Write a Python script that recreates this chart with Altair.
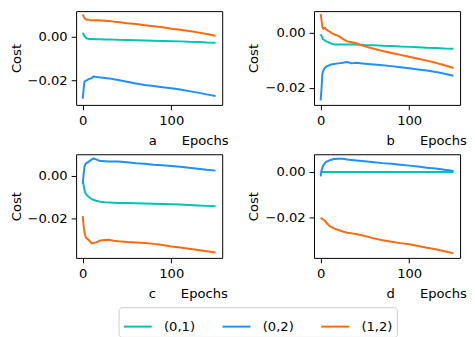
import altair as alt
import pandas as pd

epochs = [0, 1, 2, 3, 4, 5, 6, 8, 10, 12, 15, 20, 25, 30, 35, 40, 50, 60, 70, 80, 90, 100, 110, 120, 130, 140, 150]
series_names = ["(0,1)", "(0,2)", "(1,2)"]
colors = ["#00c4b4", "#1e90ff", "#ff6a0e"]
panel_labels = ["a", "b", "c", "d"]

# panel a
a_01 = [0.0017, 0.0009, 0.0002, -0.0004, -0.0008, -0.0009, -0.0010, -0.0011, -0.0011, -0.0011, -0.0012, -0.0012, -0.0013, -0.0013, -0.0014, -0.0015, -0.0016, -0.0017, -0.0018, -0.0019, -0.0020, -0.0021, -0.0022, -0.0024, -0.0025, -0.0027, -0.0028]
a_02 = [-0.0283, -0.0240, -0.0205, -0.0203, -0.0200, -0.0199, -0.0196, -0.0192, -0.0190, -0.0182, -0.0184, -0.0187, -0.0189, -0.0191, -0.0195, -0.0198, -0.0206, -0.0214, -0.0221, -0.0226, -0.0231, -0.0236, -0.0242, -0.0249, -0.0256, -0.0264, -0.0271]
a_12 = [0.0101, 0.0092, 0.0085, 0.0080, 0.0077, 0.0078, 0.0076, 0.0075, 0.0073, 0.0074, 0.0074, 0.0073, 0.0072, 0.0071, 0.0068, 0.0066, 0.0061, 0.0057, 0.0052, 0.0047, 0.0042, 0.0036, 0.0031, 0.0025, 0.0019, 0.0012, 0.0004]
# panel b
b_01 = [-0.0005, -0.0011, -0.0018, -0.0024, -0.0026, -0.0028, -0.0030, -0.0033, -0.0036, -0.0039, -0.0042, -0.0042, -0.0042, -0.0042, -0.0042, -0.0042, -0.0044, -0.0045, -0.0047, -0.0048, -0.0050, -0.0051, -0.0052, -0.0054, -0.0055, -0.0057, -0.0058]
b_02 = [-0.0246, -0.0202, -0.0148, -0.0138, -0.0131, -0.0127, -0.0124, -0.0120, -0.0117, -0.0115, -0.0113, -0.0111, -0.0109, -0.0106, -0.0111, -0.0109, -0.0112, -0.0115, -0.0118, -0.0121, -0.0125, -0.0129, -0.0133, -0.0137, -0.0142, -0.0149, -0.0156]
b_12 = [0.0069, 0.0045, 0.0022, 0.0014, 0.0017, 0.0019, 0.0013, 0.0008, 0.0005, 0.0000, -0.0005, -0.0011, -0.0022, -0.0031, -0.0034, -0.0038, -0.0049, -0.0058, -0.0066, -0.0073, -0.0080, -0.0087, -0.0094, -0.0101, -0.0109, -0.0118, -0.0128]
# panel c
c_01 = [-0.0019, -0.0045, -0.0068, -0.0081, -0.0087, -0.0092, -0.0096, -0.0103, -0.0109, -0.0112, -0.0117, -0.0122, -0.0124, -0.0125, -0.0126, -0.0127, -0.0128, -0.0129, -0.0130, -0.0131, -0.0132, -0.0133, -0.0135, -0.0137, -0.0139, -0.0141, -0.0143]
c_02 = [-0.0037, 0.0010, 0.0043, 0.0055, 0.0060, 0.0062, 0.0065, 0.0071, 0.0077, 0.0082, 0.0078, 0.0070, 0.0069, 0.0068, 0.0068, 0.0068, 0.0064, 0.0060, 0.0057, 0.0053, 0.0050, 0.0047, 0.0043, 0.0038, 0.0034, 0.0029, 0.0025]
c_12 = [-0.0189, -0.0235, -0.0267, -0.0282, -0.0293, -0.0296, -0.0299, -0.0306, -0.0318, -0.0316, -0.0313, -0.0304, -0.0302, -0.0301, -0.0305, -0.0308, -0.0311, -0.0313, -0.0316, -0.0320, -0.0325, -0.0332, -0.0337, -0.0343, -0.0349, -0.0355, -0.0361]
# panel d
d_01 = [0.0, 0.0, 0.0, 0.0, 0.0, 0.0, 0.0, 0.0, 0.0, 0.0, 0.0, 0.0, 0.0, 0.0, 0.0, 0.0, 0.0, 0.0, 0.0, 0.0, 0.0, 0.0, 0.0, 0.0, 0.0, 0.0, 0.0]
d_02 = [-0.0019, 0.0007, 0.0019, 0.0029, 0.0035, 0.0040, 0.0044, 0.0048, 0.0051, 0.0054, 0.0057, 0.0058, 0.0058, 0.0055, 0.0053, 0.0051, 0.0047, 0.0043, 0.0039, 0.0036, 0.0032, 0.0028, 0.0024, 0.0019, 0.0015, 0.0010, 0.0004]
d_12 = [-0.0201, -0.0204, -0.0207, -0.0210, -0.0212, -0.0215, -0.0220, -0.0229, -0.0237, -0.0242, -0.0248, -0.0255, -0.0262, -0.0267, -0.0270, -0.0273, -0.0282, -0.0292, -0.0300, -0.0307, -0.0313, -0.0318, -0.0326, -0.0333, -0.0340, -0.0349, -0.0358]

y_domains = [[-0.0312, 0.0116], [-0.0262, 0.0079], [-0.0386, 0.0102], [-0.0378, 0.0078]]
panel_heights = [95, 95, 105, 105]
x_domain = [-7.5, 157.5]
x_ticks = [0, 100]
y_ticks = [-0.02, 0.0]

FONT = "DejaVu Sans"
FS = 13.3
NBSP = "\u00a0"


def panel(label, s01, s02, s12, ydom, h):
    rows = []
    for name, vals in zip(series_names, (s01, s02, s12)):
        for e, v in zip(epochs, vals):
            rows.append({"epoch": e, "cost": v, "series": name})
    df = pd.DataFrame(rows)
    return alt.Chart(df).mark_line(strokeWidth=2, clip=True, strokeJoin="round").encode(
        x=alt.X("epoch:Q",
                scale=alt.Scale(domain=x_domain, nice=False, zero=False),
                axis=alt.Axis(values=x_ticks, format="d",
                              title=label + NBSP * 6 + "Epochs",
                              titleX=73, titleY=40, titleAlign="left",
                              titleBaseline="alphabetic")),
        y=alt.Y("cost:Q",
                scale=alt.Scale(domain=ydom, nice=False, zero=False),
                axis=alt.Axis(values=y_ticks, format=".2f", title="Cost")),
        color=alt.Color("series:N",
                        scale=alt.Scale(domain=series_names, range=colors),
                        legend=alt.Legend(title=None, orient="none", legendX=43, legendY=300,
                                          direction="horizontal", columns=3,
                                          symbolType="stroke", symbolSize=800,
                                          symbolStrokeWidth=2, labelFont=FONT,
                                          labelFontSize=FS, labelColor="black",
                                          columnPadding=23, labelOffset=11, padding=4,
                                          strokeColor="#cccccc", cornerRadius=3,
                                          fillColor="white")),
    ).properties(width=148, height=h)


series = [(a_01, a_02, a_12), (b_01, b_02, b_12), (c_01, c_02, c_12), (d_01, d_02, d_12)]
panels = [panel(lbl, *s, yd, h) for lbl, s, yd, h in zip(panel_labels, series, y_domains, panel_heights)]

chart = alt.concat(*panels, columns=2, spacing={"row": 50, "column": 93},
                   bounds="flush", align="each").properties(
    padding={"left": 0, "top": 0, "right": 0, "bottom": 0}
).configure_view(
    stroke="black", strokeWidth=1
).configure_axis(
    grid=False, domain=False, tickColor="black", tickSize=5, tickWidth=1,
    labelFont=FONT, labelFontSize=FS, labelColor="black", labelPadding=4,
    titleFont=FONT, titleFontSize=FS, titleFontWeight="normal", titleColor="black",
    titlePadding=4
)

chart.save("out.html", embed_options={"renderer": "svg", "actions": False})
